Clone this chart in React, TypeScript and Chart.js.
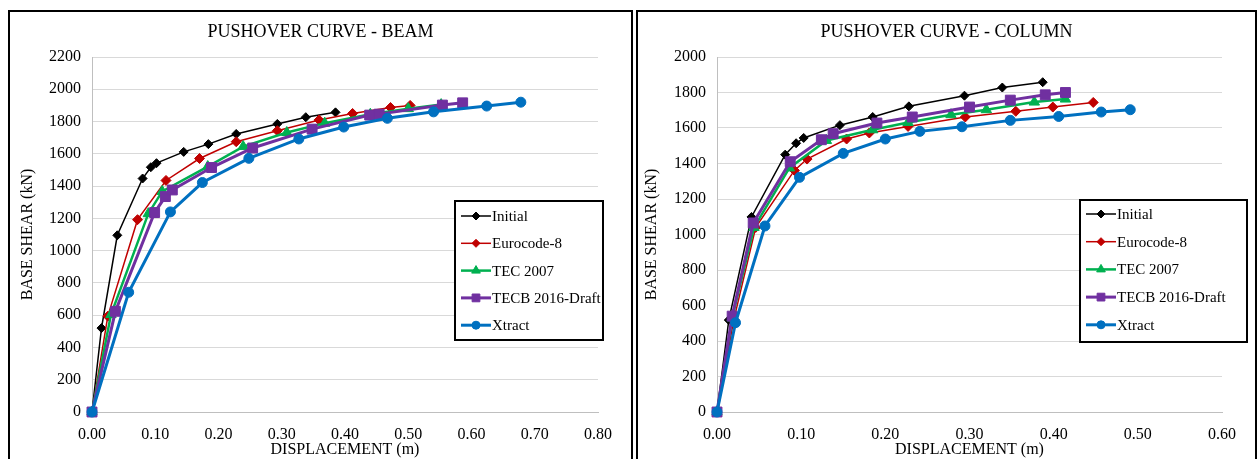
import React, { useEffect, useRef } from 'react';
import { Chart, registerables } from 'chart.js';
import { drawPoint } from 'chart.js/helpers';
Chart.register(...registerables);

const seriesNames = ['Initial', 'Eurocode-8', 'TEC 2007', 'TECB 2016-Draft', 'Xtract'];

// BEAM: [displacement (m), base shear (kN)]
const beamInitial = [[0, 0], [0.015, 520], [0.04, 1095], [0.08, 1447], [0.093, 1517], [0.102, 1542], [0.145, 1612], [0.184, 1660], [0.228, 1723], [0.293, 1785], [0.338, 1827], [0.385, 1857]];
const beamEurocode = [[0, 0], [0.025, 594], [0.072, 1192], [0.117, 1435], [0.17, 1571], [0.228, 1675], [0.293, 1743], [0.359, 1810], [0.412, 1850], [0.472, 1887], [0.503, 1900]];
const beamTec2007 = [[0, 0], [0.03, 604], [0.089, 1229], [0.111, 1367], [0.183, 1521], [0.239, 1645], [0.308, 1732], [0.368, 1790], [0.44, 1845], [0.5, 1880], [0.552, 1905]];
const beamTecb2016 = [[0, 0], [0.037, 624], [0.099, 1236], [0.116, 1335], [0.127, 1376], [0.189, 1515], [0.254, 1636], [0.348, 1753], [0.439, 1840], [0.454, 1846], [0.554, 1902], [0.586, 1916]];
const beamXtract = [[0, 0], [0.058, 742], [0.124, 1240], [0.1745, 1422], [0.248, 1572], [0.327, 1692], [0.398, 1766], [0.467, 1820], [0.54, 1860], [0.624, 1896], [0.678, 1920]];

// COLUMN
const colInitial = [[0, 0], [0.014, 518], [0.041, 1099], [0.081, 1450], [0.094, 1514], [0.103, 1544], [0.146, 1616], [0.185, 1662], [0.228, 1722], [0.294, 1782], [0.339, 1828], [0.387, 1858]];
const colEurocode = [[0, 0], [0.02, 520], [0.046, 1040], [0.092, 1361], [0.107, 1425], [0.154, 1538], [0.181, 1572], [0.227, 1609], [0.295, 1662], [0.355, 1694], [0.399, 1718], [0.447, 1744]];
const colTec2007 = [[0, 0], [0.018, 530], [0.044, 1040], [0.086, 1375], [0.13, 1530], [0.185, 1590], [0.227, 1631], [0.278, 1675], [0.32, 1703], [0.377, 1746], [0.414, 1763]];
const colTecb2016 = [[0, 0], [0.018, 540], [0.043, 1065], [0.087, 1410], [0.124, 1534], [0.138, 1568], [0.19, 1628], [0.232, 1662], [0.3, 1718], [0.3485, 1757], [0.39, 1787], [0.414, 1800]];
const colXtract = [[0, 0], [0.022, 503], [0.057, 1048], [0.098, 1322], [0.15, 1457], [0.2, 1538], [0.241, 1581], [0.291, 1607], [0.3485, 1643], [0.406, 1665], [0.4565, 1690], [0.491, 1703]];

const styles = [
  { color: '#000000', width: 1.5, point: 'rectRot', r: 4.5, lr: 4 },
  { color: '#C00000', width: 1.5, point: 'rectRot', r: 5, lr: 4 },
  { color: '#00B050', width: 2.5, point: 'triangle', r: 6, lr: 5 },
  { color: '#7030A0', width: 3, point: 'rect', r: 7, lr: 5.5 },
  { color: '#0070C0', width: 3, point: 'circle', r: 5, lr: 4 },
];

const SERIF = '"Liberation Serif", "Times New Roman", serif';

const decorPlugin = {
  id: 'decor',
  afterDraw(chart: any, _args: any, opts: any) {
    const ctx = chart.ctx;
    const ca = chart.chartArea;
    ctx.save();
    ctx.fillStyle = '#000';
    ctx.textAlign = 'center';
    ctx.textBaseline = 'middle';
    ctx.font = '18px ' + SERIF;
    ctx.fillText(opts.title, chart.width / 2, opts.titleY);
    ctx.font = '16px ' + SERIF;
    ctx.fillText(opts.xTitle, (ca.left + ca.right) / 2, opts.xTitleY);
    ctx.save();
    ctx.translate(opts.yTitleX, (ca.top + ca.bottom) / 2);
    ctx.rotate(-Math.PI / 2);
    ctx.fillText(opts.yTitle, 0, 0);
    ctx.restore();

    // legend
    const L = opts.legend;
    ctx.fillStyle = '#fff';
    ctx.fillRect(L.x, L.y, L.w, L.h);
    ctx.strokeStyle = '#000';
    ctx.lineWidth = 2;
    ctx.strokeRect(L.x, L.y, L.w, L.h);
    ctx.font = '15px ' + SERIF;
    ctx.textAlign = 'left';
    seriesNames.forEach((name, i) => {
      const st = styles[i];
      const y = L.y + L.first + i * L.step;
      ctx.strokeStyle = st.color;
      ctx.lineWidth = st.width;
      ctx.beginPath();
      ctx.moveTo(L.x + 6, y);
      ctx.lineTo(L.x + 36, y);
      ctx.stroke();
      ctx.fillStyle = st.color;
      ctx.lineWidth = 1;
      drawPoint(ctx, { pointStyle: st.point, radius: st.lr, rotation: 0, borderWidth: 1 }, L.x + 21, y);
      ctx.fillStyle = '#000';
      ctx.fillText(name, L.x + 37, y + 1);
    });
    ctx.restore();
  },
};

type Cfg = {
  W: number; H: number; left: number; right: number; top: number; bottom: number;
  xMax: number; yMax: number; series: number[][][]; title: string;
  yTitleX: number; legend: any;
};

function PushoverChart({ cfg }: { cfg: Cfg }) {
  const ref = useRef<HTMLCanvasElement>(null);
  useEffect(() => {
    const tickFont = { family: SERIF, size: 16 };
    const chart = new Chart(ref.current as HTMLCanvasElement, {
      type: 'line',
      data: {
        datasets: cfg.series.map((pts, i) => ({
          label: seriesNames[i],
          data: pts.map(([x, y]) => ({ x, y })),
          borderColor: styles[i].color,
          backgroundColor: styles[i].color,
          borderWidth: styles[i].width,
          pointStyle: styles[i].point as any,
          pointRadius: styles[i].r,
          pointBackgroundColor: styles[i].color,
          pointBorderColor: styles[i].color,
          pointBorderWidth: 1,
          tension: 0,
          clip: false as any,
          order: 5 - i,
        })),
      },
      options: {
        animation: false,
        responsive: false,
        devicePixelRatio: 1,
        layout: { padding: { top: cfg.top, right: cfg.W - cfg.right, left: 0, bottom: 0 } },
        plugins: {
          legend: { display: false },
          tooltip: { enabled: false },
          title: { display: false },
          decor: {
            title: cfg.title,
            titleY: 20,
            xTitle: 'DISPLACEMENT (m)',
            xTitleY: 438,
            yTitle: 'BASE SHEAR (kN)',
            yTitleX: cfg.yTitleX,
            legend: cfg.legend,
          },
        } as any,
        scales: {
          x: {
            type: 'linear',
            min: 0,
            max: cfg.xMax,
            grid: { display: false },
            border: { display: true, color: '#BFBFBF', width: 1 },
            ticks: {
              stepSize: 0.1,
              color: '#000',
              font: tickFont,
              padding: 5,
              callback: (v: any) => Number(v).toFixed(2),
            },
            afterFit: (s: any) => { s.height = cfg.H - cfg.bottom; },
          },
          y: {
            type: 'linear',
            min: 0,
            max: cfg.yMax,
            grid: { color: '#D9D9D9', lineWidth: 1, drawTicks: false },
            border: { display: true, color: '#BFBFBF', width: 1 },
            ticks: {
              stepSize: 200,
              color: '#000',
              font: tickFont,
              padding: 11,
              callback: (v: any) => String(Math.round(Number(v))),
            },
            afterFit: (s: any) => { s.width = cfg.left; },
          },
        },
      },
      plugins: [decorPlugin as any],
    });
    return () => chart.destroy();
  }, []);
  return <canvas ref={ref} width={cfg.W} height={cfg.H} style={{ width: cfg.W, height: cfg.H, display: 'block' }} />;
}

const beamCfg: Cfg = {
  W: 621, H: 447, left: 82, right: 588, top: 45, bottom: 400,
  xMax: 0.8, yMax: 2200,
  series: [beamInitial, beamEurocode, beamTec2007, beamTecb2016, beamXtract],
  title: 'PUSHOVER CURVE - BEAM',
  yTitleX: 18,
  legend: { x: 445, y: 189, w: 148, h: 139, first: 15, step: 27.3 },
};

const colCfg: Cfg = {
  W: 617, H: 447, left: 79, right: 584, top: 45, bottom: 400,
  xMax: 0.6, yMax: 2000,
  series: [colInitial, colEurocode, colTec2007, colTecb2016, colXtract],
  title: 'PUSHOVER CURVE - COLUMN',
  yTitleX: 14,
  legend: { x: 442, y: 188, w: 167, h: 142, first: 14, step: 27.7 },
};

export default function App() {
  return (
    <div style={{ position: 'fixed', left: 0, top: 0, width: 1257, height: 459, overflow: 'hidden', background: '#fff' }}>
      <div style={{ position: 'absolute', left: 8, top: 10, width: 625, height: 470, border: '2px solid #000', boxSizing: 'border-box' }}>
        <PushoverChart cfg={beamCfg} />
      </div>
      <div style={{ position: 'absolute', left: 636, top: 10, width: 621, height: 470, border: '2px solid #000', boxSizing: 'border-box' }}>
        <PushoverChart cfg={colCfg} />
      </div>
    </div>
  );
}
